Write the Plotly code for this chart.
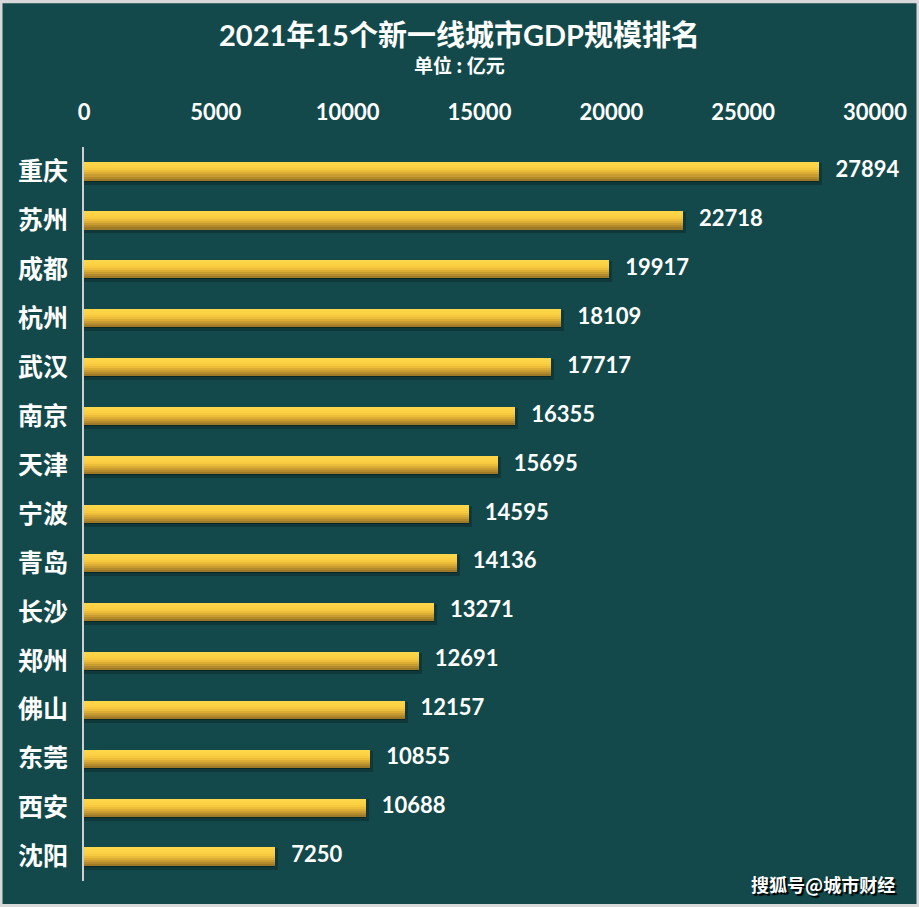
import plotly.graph_objects as go

cities = ["重庆", "苏州", "成都", "杭州", "武汉", "南京", "天津", "宁波",
          "青岛", "长沙", "郑州", "佛山", "东莞", "西安", "沈阳"]
gdp = [27894, 22718, 19917, 18109, 17717, 16355, 15695, 14595,
       14136, 13271, 12691, 12157, 10855, 10688, 7250]
x_ticks = [0, 5000, 10000, 15000, 20000, 25000, 30000]

BG = "#13494B"
FONT = "Lato, Noto Sans CJK SC, sans-serif"
CJK = "Noto Sans CJK SC, sans-serif"

fig = go.Figure()

bar_w = 0.37
# shadow
fig.add_trace(go.Bar(
    x=gdp, y=cities, orientation="h",
    width=bar_w - 0.06, offset=-bar_w / 2 + 0.08,
    marker=dict(color="rgba(5,25,26,0.55)", line=dict(color="rgba(5,25,26,0.35)", width=6)),
    hoverinfo="skip", showlegend=False,
))
# gradient slices (top to bottom)
grad = ["#FDD64A", "#FDD447", "#FBD043", "#F6C93F", "#EBBD3A",
        "#DBAD35", "#C89C30", "#B38A2C", "#9E7A28"]
n = len(grad)
sw = bar_w / n
for i, c in enumerate(grad):
    fig.add_trace(go.Bar(
        x=gdp, y=cities, orientation="h",
        width=sw + 0.002, offset=-bar_w / 2 + i * sw,
        marker=dict(color=c, line=dict(width=0)),
        hoverinfo="skip", showlegend=False,
    ))

# value labels
fig.add_trace(go.Scatter(
    x=gdp, y=cities, mode="text",
    text=["\u00a0\u00a0\u00a0" + str(v) for v in gdp],
    textposition="middle right",
    textfont=dict(family=FONT, size=22, color="white", weight="bold"),
    cliponaxis=False, hoverinfo="skip", showlegend=False,
))

W, H = 919, 907
ml, mr, mt, mb = 84, 44, 146.5, 25.5
pw, ph = W - ml - mr, H - mt - mb

fig.update_layout(
    width=W, height=H,
    margin=dict(l=ml, r=mr, t=mt, b=mb, pad=0),
    paper_bgcolor=BG, plot_bgcolor=BG,
    barmode="overlay", bargap=0,
    xaxis=dict(
        side="top", range=[0, 30000], tickvals=x_ticks,
        ticktext=[str(t) for t in x_ticks],
        showgrid=False, zeroline=False, showline=False, ticks="",
        ticklabelstandoff=22,
        tickfont=dict(family=FONT, size=22, color="white", weight="bold"),
    ),
    yaxis=dict(
        type="category", categoryorder="array", categoryarray=cities,
        range=[len(cities) - 0.5, -0.5], autorange=False,
        showgrid=False, zeroline=False,
        showline=True, linecolor="#D0D0D0", linewidth=2, ticks="",
        ticklabelstandoff=9,
        tickfont=dict(family=CJK, size=25, color="white", weight="bold"),
    ),
    title=dict(
        text="2021年15个新一线城市GDP规模排名",
        xref="container", x=0.5, xanchor="center",
        yref="container", y=1 - 36 / H, yanchor="middle",
        font=dict(family=FONT, size=29, color="white", weight="bold"),
    ),
    annotations=[
        dict(text="单位 : 亿元", xref="paper", yref="paper",
             x=(459.5 - ml) / pw, y=1 + (mt - 64) / ph,
             xanchor="center", yanchor="middle", showarrow=False,
             font=dict(family=CJK, size=19, color="white", weight="bold")),
        dict(text="搜狐号@城市财经", xref="paper", yref="paper",
             x=(897 - ml) / pw, y=-(885 - (H - mb)) / ph,
             xanchor="right", yanchor="middle", showarrow=False,
             font=dict(family=CJK, size=18, color="white", weight="bold",
                       shadow="2px 2px 1px black")),
    ],
    shapes=[
        dict(type="rect", xref="paper", yref="paper",
             x0=-ml / pw, x1=(W - ml) / pw,
             y0=-mb / ph, y1=1 + mt / ph,
             line=dict(color="#D9D9D9", width=5), fillcolor="rgba(0,0,0,0)",
             layer="above"),
    ],
)

fig.write_html("out.html", config={"displayModeBar": False},
               post_script="document.body.style.margin='0';document.body.style.overflow='hidden';")
